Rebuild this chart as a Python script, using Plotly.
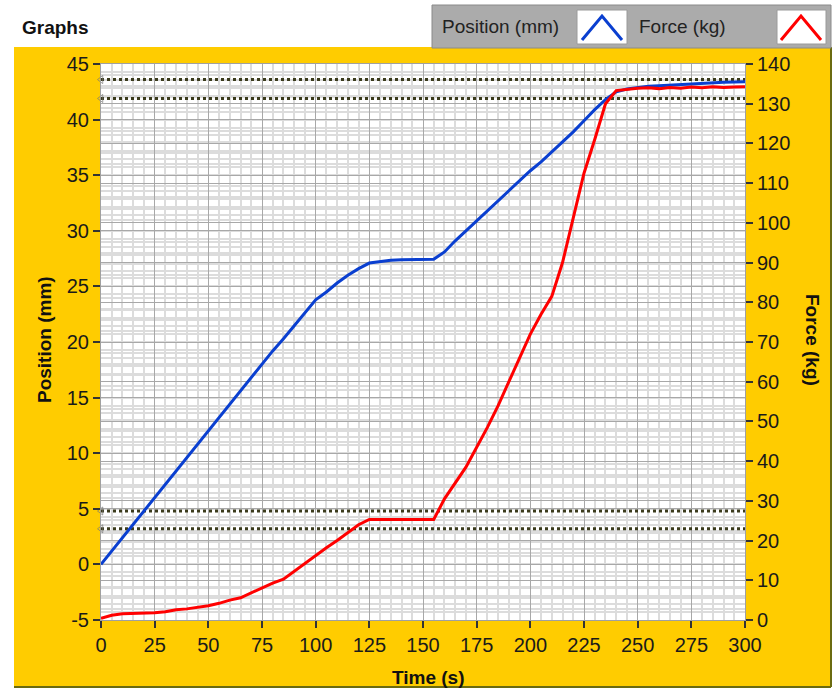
import plotly.graph_objects as go


# sample times (s)
TIME = list(range(0, 305, 5))

# Position (mm), left axis
POSITION = [0.0, 1.2, 2.4, 3.6, 4.9, 6.1, 7.3, 8.5, 9.7, 10.9,
            12.1, 13.3, 14.5, 15.7, 16.9, 18.0, 19.2, 20.3, 21.5, 22.7,
            23.8, 24.5, 25.3, 26.0, 26.6, 27.1, 27.25, 27.35, 27.4, 27.4,
            27.42, 27.45, 28.1, 29.1, 30.0, 30.9, 31.8, 32.7, 33.6, 34.5,
            35.4, 36.2, 37.1, 38.0, 38.9, 39.9, 40.9, 41.8, 42.5, 42.75,
            42.9, 43.0, 43.05, 43.1, 43.2, 43.25, 43.3, 43.3, 43.35, 43.38,
            43.4]

# Force (kg), right axis
FORCE = [0.4, 1.2, 1.6, 1.7, 1.7, 1.8, 2.1, 2.6, 2.8, 3.2,
         3.6, 4.2, 5.0, 5.6, 6.8, 8.2, 9.3, 10.3, 12.3, 14.2,
         16.3, 18.2, 20.0, 22.0, 24.0, 25.3, 25.3, 25.3, 25.3, 25.3,
         25.3, 25.3, 30.5, 34.5, 38.5, 43.5, 48.5, 54.0, 60.0, 66.0,
         72.0, 77.0, 81.5, 90.0, 101.0, 112.5, 121.0, 130.0, 133.3, 133.6,
         133.9, 134.0, 133.8, 134.1, 133.9, 134.2, 134.0, 134.3, 134.1, 134.2,
         134.3]

# cursor levels, in Position (mm)
CURSOR_LEVELS = [43.6, 41.9, 4.8, 3.2]

# left axis ticks (plain hyphen for the minus sign, as in the original)
POS_TICKS = [-5, 0, 5, 10, 15, 20, 25, 30, 35, 40, 45]
POS_LABELS = ['-5', '0', '5', '10', '15', '20', '25', '30', '35', '40', '45']

FONT = 'Liberation Sans, Arial, sans-serif'
YELLOW = '#FFCC00'
BLUE = '#0a3fd0'
RED = '#ff0000'

# plot area in pixels: x 101..745, y 64..620
L, R, T, B = 101, 745, 64, 620
W, H = 835, 689


def fx(p):
    return (p - L) / (R - L)


def fy(p):
    return (B - p) / (B - T)


fig = go.Figure()

for lv in CURSOR_LEVELS:
    fig.add_trace(go.Scatter(
        x=[TIME[0], TIME[-1]], y=[lv, lv], mode='lines+markers',
        line=dict(color='#3b3b1c', width=3, dash='3px,3px'),
        marker=dict(symbol='triangle-left-open', size=[7, 0], color='#777',
                    line=dict(width=1)),
        hoverinfo='skip', cliponaxis=False))

fig.add_trace(go.Scatter(x=TIME, y=POSITION, name='Position (mm)', mode='lines',
                         line=dict(color=BLUE, width=3), cliponaxis=False))
fig.add_trace(go.Scatter(x=TIME, y=FORCE, name='Force (kg)', mode='lines',
                         line=dict(color=RED, width=3), yaxis='y2', cliponaxis=False))

axis_common = dict(
    ticks='outside', ticklen=7, tickwidth=2, tickcolor='#333',
    showgrid=True, gridcolor='#a8a8a8', gridwidth=1,
    zeroline=False, tickfont=dict(size=20, color='#1a1a1a'),
)

fig.update_layout(
    width=W, height=H,
    margin=dict(l=L, r=W - R, t=T, b=H - B, pad=0),
    paper_bgcolor=YELLOW, plot_bgcolor='white',
    showlegend=False,
    font=dict(family=FONT, size=20, color='#1a1a1a'),
    xaxis=dict(range=[0, 300], tick0=0, dtick=25,
               minor=dict(dtick=5, showgrid=True, gridcolor='#dcdcdc', gridwidth=2),
               showline=True, linecolor='#a0a0a0', linewidth=1, mirror=True,
               **axis_common),
    yaxis=dict(range=[-5, 45], tickvals=POS_TICKS, ticktext=POS_LABELS,
               minor=dict(dtick=1, tick0=0, showgrid=True, gridcolor='#dcdcdc', gridwidth=2),
               showline=True, linecolor='#a0a0a0', linewidth=1, mirror=True,
               **axis_common),
    yaxis2=dict(range=[0, 140], tick0=0, dtick=10, overlaying='y', side='right',
                minor=dict(dtick=2, showgrid=True, gridcolor='#dcdcdc', gridwidth=2),
                **axis_common),
)


def paper_rect(x0, x1, y0, y1, **kw):
    return dict(type='rect', xref='paper', yref='paper', layer='below',
                x0=fx(x0), x1=fx(x1), y0=fy(y1), y1=fy(y0), **kw)


shapes = [
    # white surround outside the yellow frame
    paper_rect(0, W, 0, 47, fillcolor='white', line=dict(width=0)),
    paper_rect(0, 14, 0, H, fillcolor='white', line=dict(width=0)),
    paper_rect(831, W, 0, H, fillcolor='white', line=dict(width=0)),
    paper_rect(0, W, 687, H, fillcolor='white', line=dict(width=0)),
    dict(type='line', xref='paper', yref='paper', x0=fx(14), x1=fx(831),
         y0=fy(687), y1=fy(687), line=dict(color='#6b6b10', width=2)),
    dict(type='line', xref='paper', yref='paper', x0=fx(831), x1=fx(831),
         y0=fy(687), y1=fy(47), line=dict(color='#6b6b10', width=2)),
    # legend panel
    paper_rect(432, 831, 5, 48, fillcolor='#ababab', line=dict(color='#8a8a8a', width=1)),
    paper_rect(577, 627, 10, 44, fillcolor='white', line=dict(color='#9a9a9a', width=1)),
    paper_rect(777, 826, 10, 44, fillcolor='white', line=dict(color='#9a9a9a', width=1)),
]
for s in shapes[-3:]:
    s['layer'] = 'above'


def caret(x0):
    return 'M {} {} L {} {} L {} {}'.format(
        fx(x0), fy(40), fx(x0 + 20), fy(16), fx(x0 + 40), fy(40))


shapes.append(dict(type='path', xref='paper', yref='paper', path=caret(582),
                   line=dict(color=BLUE, width=3)))
shapes.append(dict(type='path', xref='paper', yref='paper', path=caret(781),
                   line=dict(color=RED, width=3)))

annotations = [
    dict(text='<b>Graphs</b>', x=fx(20), y=fy(28), xanchor='left', yanchor='middle',
         font=dict(size=19, color='#111')),
    dict(text='Position (mm)', x=fx(440), y=fy(27), xanchor='left', yanchor='middle',
         font=dict(size=19, color='#222')),
    dict(text='Force (kg)', x=fx(637), y=fy(27), xanchor='left', yanchor='middle',
         font=dict(size=19, color='#222')),
    dict(text='<b>Position (mm)</b>', x=fx(44), y=fy(340), textangle=-90,
         xanchor='center', yanchor='middle', font=dict(size=19, color='#111')),
    dict(text='<b>Force (kg)</b>', x=fx(813), y=fy(340), textangle=90,
         xanchor='center', yanchor='middle', font=dict(size=19, color='#111')),
    dict(text='<b>Time (s)</b>', x=fx(428), y=fy(677),
         xanchor='center', yanchor='middle', font=dict(size=19, color='#111')),
]
for a in annotations:
    a.update(xref='paper', yref='paper', showarrow=False)

fig.update_layout(shapes=shapes, annotations=annotations)

# page body margin would shift the chart by 8px
fig.write_html('out.html', config={'displayModeBar': False},
               post_script="document.body.style.margin='0';")
